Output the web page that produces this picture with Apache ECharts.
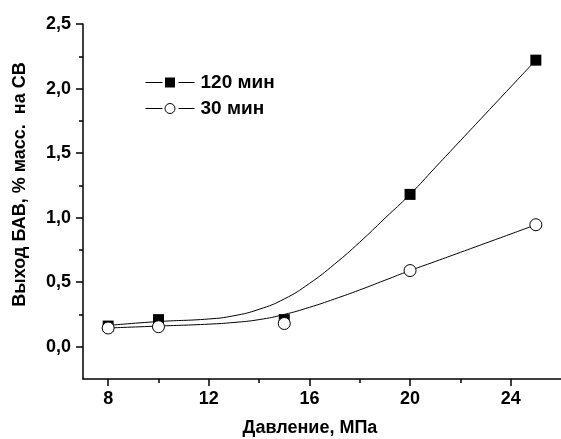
<!DOCTYPE html>
<html>
<head>
<meta charset="utf-8">
<script src="https://cdn.jsdelivr.net/npm/echarts@6/dist/echarts.min.js"></script>
<style>
html,body{margin:0;padding:0;background:#fff;}
#c{width:561px;height:439px;}
</style>
</head>
<body>
<div id="c"></div>
<script>
// Measured data points
var pressure = [8, 10, 15, 20, 25];
var yield120 = [0.16, 0.21, 0.21, 1.18, 2.22];
var yield30 = [0.145, 0.155, 0.18, 0.59, 0.945];

// Fitted curves
var fitX = [8, 10, 12, 13, 14, 15, 16, 17, 18, 19, 20, 21, 22, 23, 24, 25];
var fit120 = [0.165, 0.195, 0.215, 0.24, 0.29, 0.37, 0.49, 0.64, 0.81, 0.995, 1.18, 1.388, 1.596, 1.804, 2.012, 2.22];
var fit30 = [0.145, 0.16, 0.175, 0.188, 0.21, 0.25, 0.305, 0.37, 0.44, 0.515, 0.59, 0.66, 0.731, 0.802, 0.873, 0.945];

// Ticks
var xMajor = [8, 12, 16, 20, 24];
var xMinor = [10, 14, 18, 22];
var yMajor = [0, 0.5, 1.0, 1.5, 2.0, 2.5];
var yMinor = [0.25, 0.75, 1.25, 1.75, 2.25];

var seriesNames = ['120 мин', '30 мин'];
var xTitle = 'Давление, МПа';
var yTitle = 'Выход БАВ, % масс.  на СВ';

function pairs(xs, ys) { return xs.map(function (x, i) { return [x, ys[i]]; }); }

var FONT = 'Liberation Sans, Arial, sans-serif';
var chart = echarts.init(document.getElementById('c'), null, {renderer: 'canvas'});

var baseX = {type: 'value', min: 7, max: 26, splitLine: {show: false}};
var baseY = {type: 'value', min: -0.25, max: 2.5, splitLine: {show: false}};

// Legend drawn as graphic rows: line - marker - line - text
function legendRow(y, marker, label) {
  return {
    type: 'group', left: 143, top: y - 10,
    children: [
      {type: 'line', shape: {x1: 0, y1: 10, x2: 17, y2: 10}, style: {stroke: '#000', lineWidth: 1}},
      {type: 'line', shape: {x1: 33, y1: 10, x2: 49, y2: 10}, style: {stroke: '#000', lineWidth: 1}},
      marker,
      {type: 'text', x: 55, y: 10, style: {text: label, fill: '#000', font: 'bold 19px ' + FONT, textVerticalAlign: 'middle', verticalAlign: 'middle'}}
    ]
  };
}

chart.setOption({
  animation: false,
  backgroundColor: '#fff',
  grid: {left: 83, right: 0, top: 24, bottom: 60, containLabel: false, outerBoundsMode: 'none'},
  graphic: [
    legendRow(83, {type: 'rect', shape: {x: 19.5, y: 5, width: 10, height: 10}, style: {fill: '#000'}}, seriesNames[0]),
    legendRow(109, {type: 'circle', shape: {cx: 24.5, cy: 10, r: 5}, style: {fill: '#fff', stroke: '#000', lineWidth: 1}}, seriesNames[1])
  ],
  xAxis: [
    Object.assign({}, baseX, {
      position: 'bottom',
      name: xTitle, nameLocation: 'middle', nameGap: 40,
      nameTextStyle: {fontFamily: FONT, fontSize: 18, fontWeight: 'bold', color: '#000', padding: [0, 24, 0, 0]},
      axisLine: {show: true, onZero: false, lineStyle: {color: '#000', width: 1.5}},
      axisTick: {show: true, inside: false, length: 7, customValues: xMajor, lineStyle: {color: '#000', width: 1.5}},
      axisLabel: {show: true, customValues: xMajor, margin: 11, fontFamily: FONT, fontSize: 18, fontWeight: 'bold', color: '#000'}
    }),
    Object.assign({}, baseX, {
      position: 'bottom',
      axisLine: {show: false, onZero: false},
      axisTick: {show: true, inside: false, length: 4, customValues: xMinor, lineStyle: {color: '#000', width: 1.5}},
      axisLabel: {show: false}
    })
  ],
  yAxis: [
    Object.assign({}, baseY, {
      position: 'left',
      name: yTitle, nameLocation: 'middle', nameGap: 54, nameRotate: 90,
      nameTextStyle: {fontFamily: FONT, fontSize: 18, fontWeight: 'bold', color: '#000', padding: [0, 0, 0, 34]},
      axisLine: {show: true, onZero: false, lineStyle: {color: '#000', width: 1.5}},
      axisTick: {show: true, inside: false, length: 7, customValues: yMajor, lineStyle: {color: '#000', width: 1.5}},
      axisLabel: {show: true, customValues: yMajor, margin: 12, fontFamily: FONT, fontSize: 18, fontWeight: 'bold', color: '#000',
        formatter: function (v) { return v.toFixed(1).replace('.', ','); }}
    }),
    Object.assign({}, baseY, {
      position: 'left',
      axisLine: {show: false, onZero: false},
      axisTick: {show: true, inside: false, length: 4, customValues: yMinor, lineStyle: {color: '#000', width: 1.5}},
      axisLabel: {show: false}
    })
  ],
  series: [
    {
      name: seriesNames[0], type: 'line', smooth: 0.5, showSymbol: false,
      data: pairs(fitX, fit120),
      lineStyle: {color: '#000', width: 1},
      itemStyle: {color: '#000'},
      z: 2
    },
    {
      name: seriesNames[1], type: 'line', smooth: 0.5, showSymbol: false,
      data: pairs(fitX, fit30),
      lineStyle: {color: '#000', width: 1},
      itemStyle: {color: '#000'},
      z: 2
    },
    {
      name: 'pts120', type: 'scatter', symbol: 'rect', symbolSize: 11,
      data: pairs(pressure, yield120),
      itemStyle: {color: '#000', opacity: 1},
      z: 3
    },
    {
      name: 'pts30', type: 'scatter', symbol: 'circle', symbolSize: 12,
      data: pairs(pressure, yield30),
      itemStyle: {color: '#fff', borderColor: '#000', borderWidth: 1, opacity: 1},
      z: 4
    }
  ]
});
</script>
</body>
</html>
